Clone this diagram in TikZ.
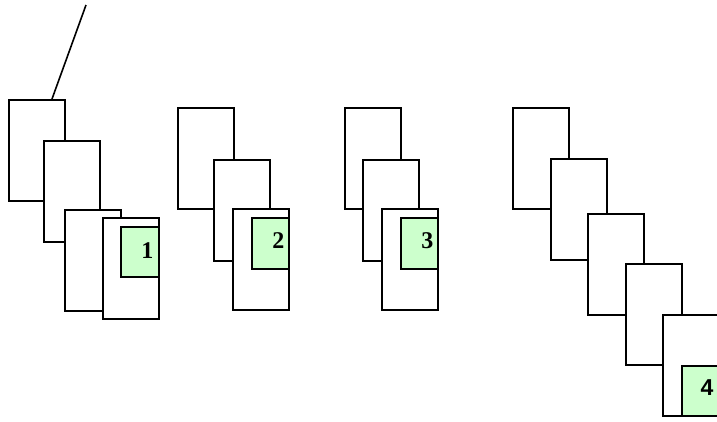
\documentclass[tikz,border=0pt]{standalone}
\usepackage{fontspec}
\setmainfont{Liberation Serif}
\newfontfamily\sansnum{Liberation Sans}
\usetikzlibrary{positioning}
\definecolor{slotgreen}{RGB}{204,255,204}
\tikzset{
	page/.style={draw, fill=white, line width=1.6pt, minimum width=56pt, minimum height=101pt, inner sep=0pt, anchor=north west},
	slot/.style={draw, fill=slotgreen, line width=1.6pt, minimum width=37pt, minimum height=51pt, inner sep=0pt, anchor=north west},
	num/.style={anchor=east, inner sep=0pt, font=\fontsize{24}{24}\selectfont\bfseries}
}
\begin{document}
\begin{tikzpicture}[x=1pt, y=-1pt]
	\useasboundingbox (0, 0) rectangle (717, 421);
	% first stack, with the pointer line
	\node[page] (a1) at (8, 99) {};
	\node[page] (b1) at (43, 140) {};
	\node[page] (c1) at (64, 209) {};
	\node[page] (d1) at (102, 217) {};
	\node[slot, minimum width=38pt, minimum height=50pt] (g1) at (120, 226) {};
	\node[num] (n1) at ([xshift=-6pt, yshift=1pt]g1.east) {1};
	\coordinate (tip) at (86, 5);
	\draw[line width=1.6pt] (tip) -- ([xshift=44pt]a1.north west);
	% second stack
	\node[page] (a2) at (177, 107) {};
	\node[page] (b2) at (213, 159) {};
	\node[page] (c2) at (232, 208) {};
	\node[slot] (g2) at (251, 217) {};
	\node[num] (n2) at ([xshift=-5pt, yshift=3pt]g2.east) {2};
	% third stack
	\node[page] (a3) at (344, 107) {};
	\node[page] (b3) at (362, 159) {};
	\node[page] (c3) at (381, 208) {};
	\node[slot] (g3) at (400, 217) {};
	\node[num] (n3) at ([xshift=-5pt, yshift=3pt]g3.east) {3};
	% fourth stack
	\node[page] (a4) at (512, 107) {};
	\node[page] (b4) at (550, 158) {};
	\node[page] (c4) at (587, 213) {};
	\node[page] (d4) at (625, 263) {};
	\node[page] (e4) at (662, 314) {};
	\node[slot, minimum height=50pt] (g4) at (681, 365) {};
	\node[num, font=\fontsize{23}{23}\selectfont\bfseries\sansnum] (n4) at ([xshift=-6pt, yshift=3pt]g4.east) {4};
\end{tikzpicture}
\end{document}
